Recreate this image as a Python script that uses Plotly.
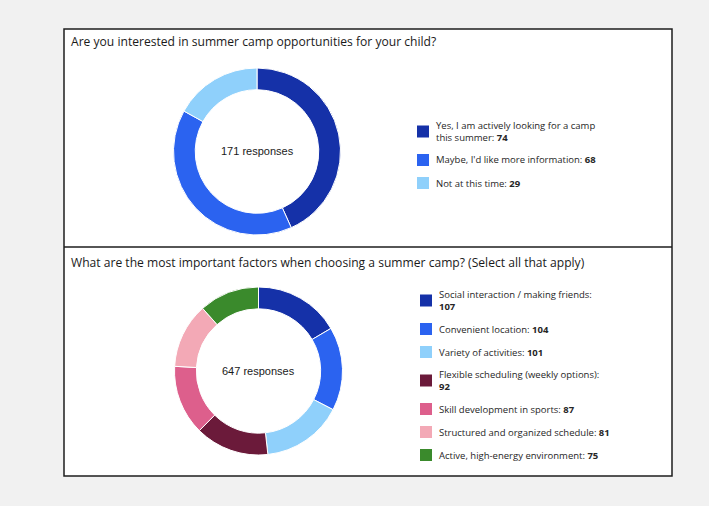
import textwrap
import plotly.graph_objects as go

W, H = 709, 506

# ---- data ----
q1_title = "Are you interested in summer camp opportunities for your child?"
q1_labels = ["Yes, I am actively looking for a camp this summer",
             "Maybe, I'd like more information",
             "Not at this time"]
q1_values = [74, 68, 29]
q1_colors = ["#1531a8", "#2b63f0", "#8fd0fb"]

q2_title = "What are the most important factors when choosing a summer camp? (Select all that apply)"
q2_labels = ["Social interaction / making friends",
             "Convenient location",
             "Variety of activities",
             "Flexible scheduling (weekly options)",
             "Skill development in sports",
             "Structured and organized schedule",
             "Active, high-energy environment"]
q2_values = [107, 104, 101, 92, 87, 81, 75]
q2_colors = ["#1531a8", "#2b63f0", "#8fd0fb", "#6b1a3a", "#dd5f8c", "#f3a9b6", "#3a8a2c"]


def px(x):
    return x / W


def py(y):
    return 1 - y / H


fig = go.Figure()
shapes = []
annotations = []

# panel box
shapes.append(dict(type="rect", xref="paper", yref="paper",
                   x0=px(64), x1=px(672), y0=py(476), y1=py(29),
                   fillcolor="white", line=dict(color="#1e1e1e", width=1.5), layer="below"))
shapes.append(dict(type="line", xref="paper", yref="paper",
                   x0=px(64), x1=px(672), y0=py(247), y1=py(247),
                   line=dict(color="#1e1e1e", width=1.5)))

panels = [
    dict(title=q1_title, labels=q1_labels, values=q1_values, colors=q1_colors,
         title_y=41.5, cx=257, cy=151.5, r=83.5, leg_mx=417, leg_tx=434, leg_y0=126),
    dict(title=q2_title, labels=q2_labels, values=q2_values, colors=q2_colors,
         title_y=262.5, cx=258.5, cy=371, r=84, leg_mx=420, leg_tx=437, leg_y0=295),
]

LINE_H = 11
PITCH = 23
MS = 12

for p in panels:
    fig.add_trace(go.Pie(
        labels=p["labels"], values=p["values"],
        marker=dict(colors=p["colors"], line=dict(color="white", width=1)),
        hole=0.74, sort=False, direction="clockwise", rotation=0,
        textinfo="none", hoverinfo="label+value", showlegend=False,
        domain=dict(x=[px(p["cx"] - p["r"]), px(p["cx"] + p["r"])],
                    y=[py(p["cy"] + p["r"]), py(p["cy"] - p["r"])]),
    ))
    annotations.append(dict(text=p["title"], xref="paper", yref="paper",
                            x=px(69), y=py(p["title_y"]), xanchor="left", yanchor="middle",
                            showarrow=False,
                            font=dict(family="Open Sans", size=12.1, color="#1a1a1a")))
    annotations.append(dict(text=f"{sum(p['values'])} responses", xref="paper", yref="paper",
                            x=px(p["cx"]), y=py(p["cy"]), xanchor="center", yanchor="middle",
                            showarrow=False,
                            font=dict(family="Liberation Sans", size=11, color="#1a1a1a")))
    # legend
    y = p["leg_y0"]
    for lab, val, col in zip(p["labels"], p["values"], p["colors"]):
        full = f"{lab}: {val}"
        lines = textwrap.wrap(full, 37)
        last = lines[-1]
        num = str(val)
        lines[-1] = last[: len(last) - len(num)] + f"<b>{num}</b>"
        n = len(lines)
        block_c = y + (n - 1) * LINE_H / 2
        shapes.append(dict(type="rect", xref="paper", yref="paper",
                           x0=px(p["leg_mx"]), x1=px(p["leg_mx"] + MS),
                           y0=py(block_c + MS / 2), y1=py(block_c - MS / 2),
                           fillcolor=col, line=dict(width=0)))
        annotations.append(dict(text="<br>".join(lines), xref="paper", yref="paper",
                                x=px(p["leg_tx"]), y=py(block_c),
                                xanchor="left", yanchor="middle", align="left",
                                showarrow=False,
                                font=dict(family="Open Sans", size=9.5, color="#262626")))
        y += PITCH + (n - 1) * LINE_H

fig.update_layout(
    width=W, height=H, margin=dict(l=0, r=0, t=0, b=0),
    paper_bgcolor="#f1f1f1", plot_bgcolor="#f1f1f1",
    shapes=shapes, annotations=annotations, showlegend=False,
)

fig.write_html("out.html")
